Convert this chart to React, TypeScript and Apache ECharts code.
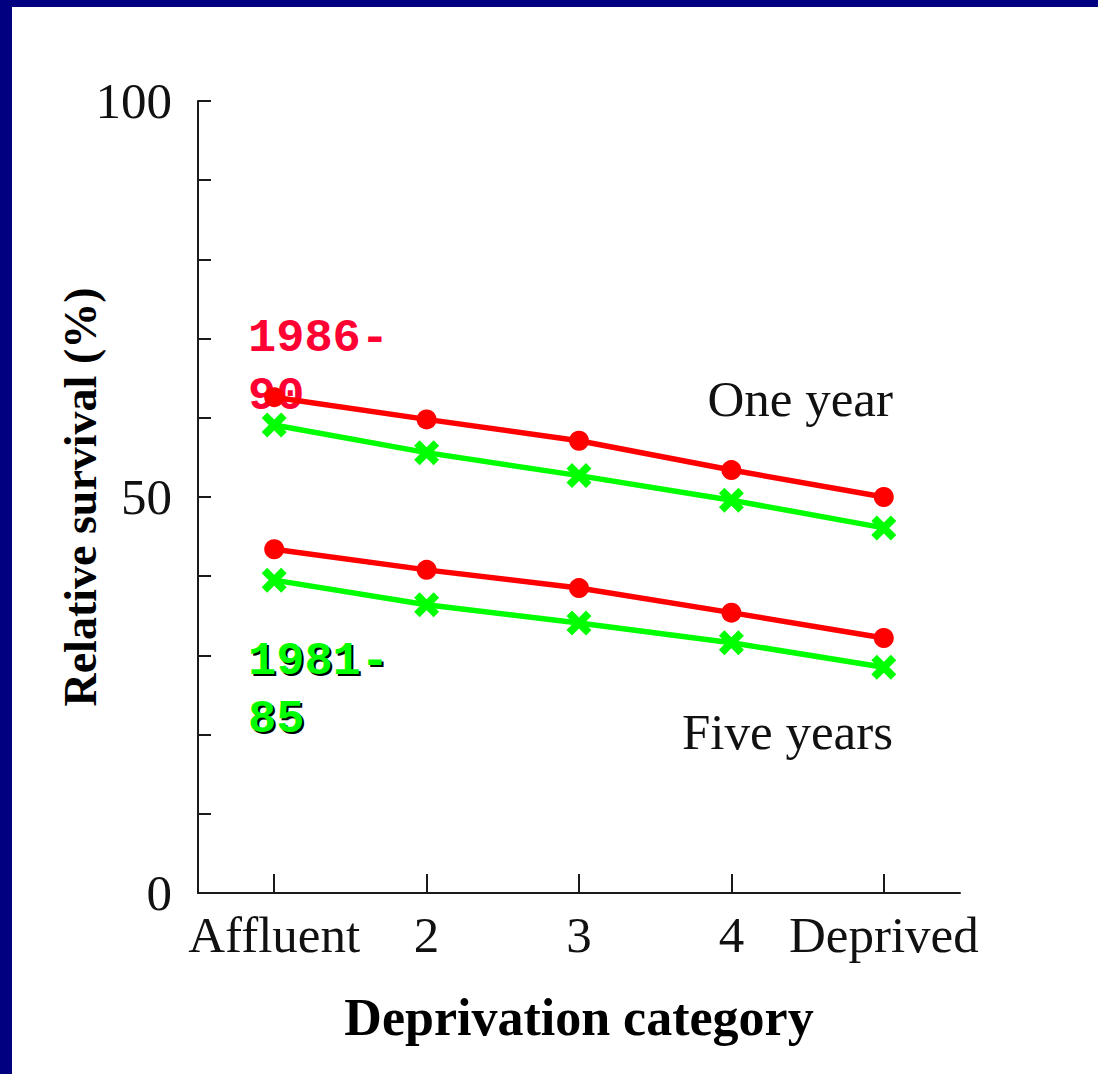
import React, { useEffect, useRef } from "react";
import * as echarts from "echarts";

const categories = ["Affluent", "2", "3", "4", "Deprived"];
const oneYear1986 = [62.6, 59.8, 57.1, 53.4, 50.0];
const oneYear1981 = [59.1, 55.6, 52.7, 49.6, 46.1];
const fiveYear1986 = [43.4, 40.8, 38.5, 35.4, 32.2];
const fiveYear1981 = [39.5, 36.4, 34.1, 31.6, 28.5];
const yTickLabels = [0, 50, 100];

const RED = "#ff0000";
const GREEN = "#00ff00";
const SERIF = "'Liberation Serif', 'Times New Roman', serif";
const MONO = "'Liberation Mono', 'Courier New', monospace";
const CROSS =
  "path://M0,2.2 L2.2,0 L5,2.8 L7.8,0 L10,2.2 L7.2,5 L10,7.8 L7.8,10 L5,7.2 L2.2,10 L0,7.8 L2.8,5 Z";

function lineSeries(name: string, data: number[], color: string, cross: boolean) {
  return {
    name,
    type: "line",
    data,
    symbol: cross ? CROSS : "circle",
    symbolSize: cross ? 25 : 20,
    showSymbol: true,
    lineStyle: { color, width: 5.5 },
    itemStyle: { color, borderWidth: 0 },
    emphasis: { disabled: true },
  };
}

export default function App() {
  const ref = useRef<HTMLDivElement>(null);
  useEffect(() => {
    document.body.style.margin = "0";
    const chart = echarts.init(ref.current!, null, { renderer: "svg" });
    const axisColor = "#1a1a1a";
    chart.setOption({
      animation: false,
      backgroundColor: "transparent",
      grid: { left: 198, top: 101, width: 762, height: 792, containLabel: false },
      xAxis: {
        type: "category",
        data: categories,
        boundaryGap: true,
        name: "Deprivation category",
        nameLocation: "middle",
        nameGap: 98,
        nameTextStyle: { fontFamily: SERIF, fontWeight: "bold", fontSize: 52, color: "#000" },
        axisLine: { lineStyle: { color: axisColor, width: 2 } },
        axisTick: { show: true, inside: true, length: 19, interval: 0, alignWithLabel: true, lineStyle: { color: axisColor, width: 2 } },
        axisLabel: { fontFamily: SERIF, fontSize: 51, color: "#111", margin: 16, interval: 0 },
        splitLine: { show: false },
      },
      yAxis: {
        type: "value",
        min: 0,
        max: 100,
        interval: 10,
        axisLine: { show: true, lineStyle: { color: axisColor, width: 2 } },
        axisTick: { show: true, inside: true, length: 13, lineStyle: { color: axisColor, width: 2 } },
        axisLabel: {
          fontFamily: SERIF,
          fontSize: 51,
          color: "#111",
          margin: 26,
          formatter: (v: number) => (yTickLabels.includes(v) ? String(v) : ""),
        },
        splitLine: { show: false },
      },
      series: [
        lineSeries("One year 1986-90", oneYear1986, RED, false),
        lineSeries("One year 1981-85", oneYear1981, GREEN, true),
        lineSeries("Five years 1986-90", fiveYear1986, RED, false),
        lineSeries("Five years 1981-85", fiveYear1981, GREEN, true),
      ],
      graphic: [
        {
          type: "text",
          x: 80,
          y: 497,
          rotation: Math.PI / 2,
          style: { text: "Relative survival (%)", font: `bold 46px ${SERIF}`, fill: "#000", align: "center", verticalAlign: "middle" },
        },
        { type: "text", x: 893, y: 399, style: { text: "One year", font: `51px ${SERIF}`, fill: "#111", align: "right", verticalAlign: "middle" } },
        { type: "text", x: 893, y: 732, style: { text: "Five years", font: `51px ${SERIF}`, fill: "#111", align: "right", verticalAlign: "middle" } },
        { type: "text", x: 248, y: 338, style: { text: "1986-", font: `bold 47px ${MONO}`, fill: "#ff0033", verticalAlign: "middle" } },
        { type: "text", x: 248, y: 396, style: { text: "90", font: `bold 47px ${MONO}`, fill: "#ff0033", verticalAlign: "middle" } },
        { type: "text", x: 250, y: 663, style: { text: "1981-", font: `bold 47px ${MONO}`, fill: "#000", verticalAlign: "middle" } },
        { type: "text", x: 250, y: 721, style: { text: "85", font: `bold 47px ${MONO}`, fill: "#000", verticalAlign: "middle" } },
        { type: "text", x: 248, y: 661, style: { text: "1981-", font: `bold 47px ${MONO}`, fill: GREEN, verticalAlign: "middle" } },
        { type: "text", x: 248, y: 719, style: { text: "85", font: `bold 47px ${MONO}`, fill: GREEN, verticalAlign: "middle" } },
      ],
    });
    return () => chart.dispose();
  }, []);
  return (
    <div style={{ position: "fixed", left: 0, top: 0, width: 1098, height: 1074, background: "#000080" }}>
      <div style={{ position: "absolute", left: 12, top: 7, right: 0, bottom: 0, background: "#fff" }} />
      <div ref={ref} style={{ position: "absolute", left: 0, top: 0, width: 1098, height: 1074 }} />
    </div>
  );
}
